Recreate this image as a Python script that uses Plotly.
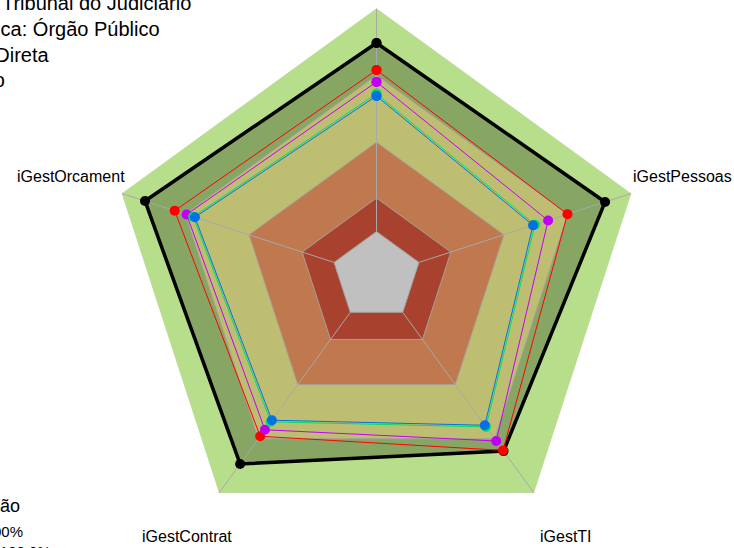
import math
import plotly.graph_objects as go

# Axes (clockwise from top)
categories = ["iGovPub", "iGestPessoas", "iGestTI", "iGestContrat", "iGestOrcament"]

# Reference band levels (fraction of 100%)
level_names = ["100%", "70%", "40%", "15%", "0%"]
level_values = [1.00, 0.70, 0.40, 0.15, 0.00]
level_colors = ["#B7DF8B", "#BEBE73", "#C0784E", "#A8412D", "#C0C0C0"]

# Series values (fraction)
series_names = ["Máximo", "Série 1", "Série 2", "Série 3", "Série 4"]
series_values = [
    [0.844, 0.876, 0.768, 0.839, 0.890],   # black
    [0.723, 0.699, 0.764, 0.686, 0.750],   # red
    [0.670, 0.608, 0.712, 0.650, 0.694],   # purple
    [0.617, 0.546, 0.634, 0.606, 0.663],   # green
    [0.607, 0.537, 0.625, 0.597, 0.655],   # blue
]
series_colors = ["#000000", "#FF0000", "#C000F5", "#00E060", "#0070E8"]
series_widths = [3.5, 1, 1, 1, 1]
black_fill = "#87A664"

legend_top = ["Segmento: Tribunal do Judiciário", "Natureza Jurídica: Órgão Público",
              "Administração Direta", "Poder: Judiciário"]
legend_bottom = ["Classificação", "Meta: 100%", "Máximo: 100.0%"]

FONT = "Liberation Sans, Arial, sans-serif"
R_MIN = -0.2          # radial range start (value 0 sits at 1/6 of the radius)
LABEL_FACTOR = 1.2    # label distance relative to the 100% radius


def closed(vals):
    return list(vals) + [vals[0]]


theta_c = closed(categories)
fig = go.Figure()

# outermost band
fig.add_trace(go.Scatterpolar(r=closed([level_values[0]] * 5), theta=theta_c, mode="lines",
                              fill="toself", fillcolor=level_colors[0],
                              line=dict(color="#C8D8B8", width=0.6), hoverinfo="skip"))
# black series filled area
fig.add_trace(go.Scatterpolar(r=closed(series_values[0]), theta=theta_c, mode="lines",
                              fill="toself", fillcolor=black_fill,
                              line=dict(width=0), hoverinfo="skip"))
# inner bands
for v, c in zip(level_values[1:], level_colors[1:]):
    fig.add_trace(go.Scatterpolar(r=closed([v] * 5), theta=theta_c, mode="lines",
                                  fill="toself", fillcolor=c,
                                  line=dict(color="#A6A09A", width=1), hoverinfo="skip"))
# radial axis lines
rr, tt = [], []
for c in categories:
    rr += [0, 1, None]
    tt += [c, c, None]
fig.add_trace(go.Scatterpolar(r=rr, theta=tt, mode="lines",
                              line=dict(color="#A8A8A8", width=1), hoverinfo="skip"))
# series
for name, vals, col, w in zip(series_names, series_values, series_colors, series_widths):
    fig.add_trace(go.Scatterpolar(r=closed(vals), theta=theta_c, mode="lines+markers",
                                  name=name, line=dict(color=col, width=w),
                                  marker=dict(color=col, size=10)))

W, H = 734, 548
cx, cy, R = 376.5, 276.2, 268.0

annotations = []
# axis labels placed at 1.2x the 100% radius (outside polar domain)
for i, cat in enumerate(categories):
    ang = math.radians(90 - 72 * i)
    lx = cx + R * LABEL_FACTOR * math.cos(ang)
    ly = cy - R * LABEL_FACTOR * math.sin(ang)
    annotations.append(dict(text=cat, x=lx / W, y=1 - ly / H, xref="paper", yref="paper",
                            xanchor="center", yanchor="middle", showarrow=False,
                            font=dict(family=FONT, size=16, color="black")))

top_right_edges = [193, 162, 52, 7]
top_centers = [3.4, 29.4, 55.4, 80.4]
for t, xr, yc in zip(legend_top, top_right_edges, top_centers):
    annotations.append(dict(text=t, x=xr / W, y=1 - yc / H, xref="paper", yref="paper",
                            xanchor="right", yanchor="middle", showarrow=False,
                            font=dict(family=FONT, size=20, color="black")))
bot_right_edges = [22, 25, 53]
bot_centers = [505.8, 531.7, 551.0]
bot_sizes = [18, 15, 15]
for t, xr, yc, s in zip(legend_bottom, bot_right_edges, bot_centers, bot_sizes):
    annotations.append(dict(text=t, x=xr / W, y=1 - yc / H, xref="paper", yref="paper",
                            xanchor="right", yanchor="middle", showarrow=False,
                            font=dict(family=FONT, size=s, color="black")))

fig.update_layout(
    width=W, height=H, margin=dict(l=0, r=0, t=0, b=0),
    paper_bgcolor="white", plot_bgcolor="white", showlegend=False,
    font=dict(family=FONT, size=16, color="black"),
    annotations=annotations,
    polar=dict(
        domain=dict(x=[(cx - R) / W, (cx + R) / W], y=[1 - (cy + R) / H, 1 - (cy - R) / H]),
        bgcolor="rgba(0,0,0,0)", gridshape="linear",
        radialaxis=dict(visible=False, range=[R_MIN, 1]),
        angularaxis=dict(visible=False, rotation=90, direction="clockwise",
                         type="category", categoryarray=categories),
    ),
)

fig.write_html("out.html",
               config={"displayModeBar": False},
               post_script="document.body.style.margin='0px';"
                           "document.body.style.overflow='hidden';")
